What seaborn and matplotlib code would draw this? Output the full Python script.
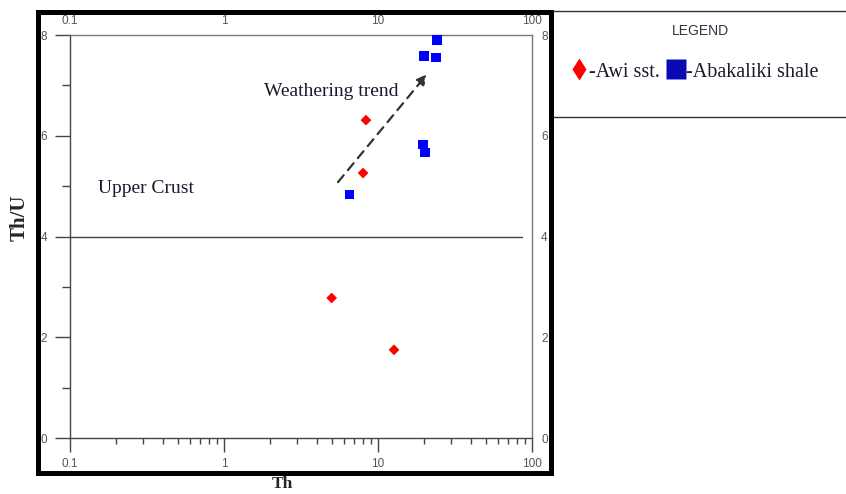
import numpy as np
import pandas as pd
import matplotlib
matplotlib.use('Agg')
import matplotlib.pyplot as plt
from matplotlib.lines import Line2D
from matplotlib.patches import Rectangle
import seaborn as sns

# data
awi_th = [8.35, 8.0, 5.0, 12.7]
awi_thu = [6.31, 5.26, 2.78, 1.75]
shale_th = [6.5, 24.2, 19.9, 23.8, 19.6, 20.2]
shale_thu = [4.84, 7.90, 7.58, 7.56, 5.83, 5.67]

groups = ['Awi sst.', 'Abakaliki shale']
x_ticks = [0.1, 1, 10, 100]
x_tick_labels = ['0.1', '1', '10', '100']
y_ticks = [0, 2, 4, 6, 8]
y_minor = [1, 3, 5, 7]
upper_crust = 4.0
trend_start = (5.5, 5.08)
trend_end = (20.8, 7.22)

df = pd.DataFrame({
    'Th': awi_th + shale_th,
    'ThU': awi_thu + shale_thu,
    'group': [groups[0]] * len(awi_th) + [groups[1]] * len(shale_th),
})

sns.set_theme(style='white')
plt.rcParams['font.family'] = ['Liberation Serif', 'DejaVu Serif']

W, H = 846, 494
fig = plt.figure(figsize=(W / 100, H / 100), dpi=100)
ax = fig.add_axes([70 / W, 1 - 438 / H, 462 / W, 403 / H])

palette = {'Awi sst.': '#ff0000', 'Abakaliki shale': '#0000ff'}
markers = {'Awi sst.': 'D', 'Abakaliki shale': 's'}
sns.scatterplot(data=df, x='Th', y='ThU', hue='group', style='group', size='group',
                palette=palette, markers=markers,
                sizes={'Awi sst.': 30, 'Abakaliki shale': 45},
                edgecolor='none', legend=False, ax=ax, zorder=3)

ax.set_xscale('log')
ax.set_xlim(0.1, 100)
ax.set_ylim(0, 8)

# upper crust line
ax.axhline(upper_crust, xmin=0, xmax=(522 - 70) / 462, color='#444444', lw=1)

# weathering trend arrow
ax.annotate('', xy=trend_end, xytext=trend_start,
            arrowprops=dict(arrowstyle='-|>', color='#333333', lw=1.6,
                            ls=(0, (4, 3)), mutation_scale=15, shrinkA=0, shrinkB=0))
ax.text(4.95, 6.87, 'Weathering trend', fontsize=14, ha='center', va='center', color='#1a1a2e')
ax.text(0.152, 4.96, 'Upper Crust', fontsize=14, ha='left', va='center', color='#1a1a2e')

# ticks
ax.set_xticks(x_ticks, labels=x_tick_labels)
ax.set_xticks([m * d for d in [0.1, 1, 10] for m in range(2, 10)], minor=True)
ax.set_yticks(y_ticks, labels=[str(v) for v in y_ticks])
ax.set_yticks(y_minor, minor=True)
ax.tick_params(axis='x', which='major', direction='out', length=10, width=1, color='#444444',
               bottom=True, pad=4.5, labelcolor='#555555')
ax.tick_params(axis='x', which='minor', direction='out', length=4.3, width=1, color='#444444', bottom=True)
ax.tick_params(axis='y', which='major', direction='out', length=10.8, width=1, color='#444444',
               left=True, pad=5.8, labelcolor='#555555')
ax.tick_params(axis='y', which='minor', direction='out', length=5.8, width=1, color='#444444', left=True)
for lab in ax.get_xticklabels() + ax.get_yticklabels():
    lab.set_fontfamily('Liberation Sans')
    lab.set_fontsize(8.5)

# secondary labels top/right
secx = ax.secondary_xaxis('top')
secx.set_xticks(x_ticks, labels=x_tick_labels)
secx.xaxis.set_minor_locator(matplotlib.ticker.NullLocator())
secx.tick_params(length=0, pad=5.5, labelcolor='#555555')
secx.spines['top'].set_visible(False)
secy = ax.secondary_yaxis('right')
secy.set_yticks(y_ticks, labels=[str(v) for v in y_ticks])
secy.yaxis.set_minor_locator(matplotlib.ticker.NullLocator())
secy.tick_params(length=0, pad=6.5, labelcolor='#555555')
secy.spines['right'].set_visible(False)
for lab in secx.get_xticklabels() + secy.get_yticklabels():
    lab.set_fontfamily('Liberation Sans')
    lab.set_fontsize(8.5)

for side in ['left', 'bottom', 'top', 'right']:
    ax.spines[side].set_visible(True)
    ax.spines[side].set_color('#444444')
    ax.spines[side].set_linewidth(1)
ax.spines['top'].set_color('#777777')
ax.spines['right'].set_color('#777777')

ax.set_xlabel('Th', fontsize=12.5, fontweight='bold', va='top')
ax.xaxis.set_label_coords((282 - 70) / 462, -(476 - 438) / 403)
ax.set_ylabel('Th/U', fontsize=15, fontweight='bold', va='center')
ax.yaxis.set_label_coords((20 - 70) / 462, (438 - 218) / 403)

# thick outer border
fig.add_artist(Rectangle((37.5 / W, 1 - 472.5 / H), (550.5 - 37.5) / W, (472.5 - 12.5) / H,
                         transform=fig.transFigure, fill=False, lw=3.6, ec='black'))

# legend box lines
for yy in [11, 117]:
    fig.add_artist(Line2D([553 / W, 1], [1 - yy / H, 1 - yy / H], transform=fig.transFigure,
                          color='#333333', lw=1))
fig.text(700 / W, 1 - 31 / H, 'LEGEND', family='Liberation Sans', fontsize=10,
         ha='center', va='center', color='#333344')
handles = [Line2D([], [], ls='none', marker='d', markersize=11.5, color='#ff0000', mec='none'),
           Line2D([], [], ls='none', marker='s', markersize=15, color='#0a0ab4', mec='none')]
fig.legend(handles, ['-' + g for g in groups], loc='center left',
           bbox_to_anchor=(569 / W, 1 - 72 / H), ncol=2, frameon=False, fontsize=14.5,
           handlelength=0.95, handletextpad=0.05, columnspacing=0.3, borderpad=0, borderaxespad=0,
           labelcolor='#1a1a2e')

fig.savefig('out.png', dpi=100)
